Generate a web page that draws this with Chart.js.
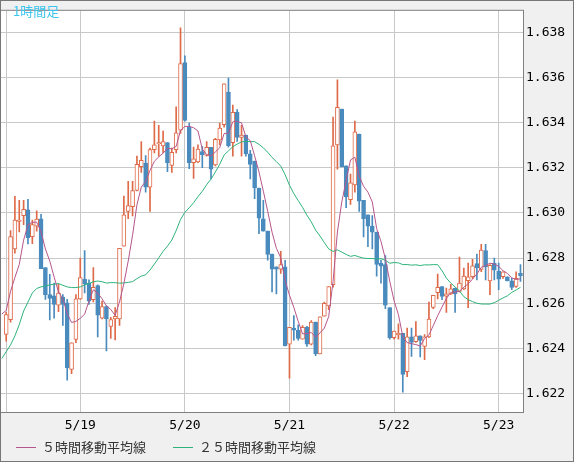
<!DOCTYPE html>
<html>
<head>
<meta charset="utf-8">
<script src="https://cdn.jsdelivr.net/npm/chart.js@4.4.1/dist/chart.umd.min.js"></script>
<style>
html, body { margin: 0; padding: 0; background: #f0f0f0; }
</style>
</head>
<body>
<canvas id="myChart" width="574" height="462"></canvas>
<script>
// 1時間足 (hour index from 5/18 00:00, first candle = 5/18 07:00)
var firstHour = 7;

var opens = [
  1.62462, 1.62527, 1.62840, 1.62962, 1.62988, 1.63013, 1.62895, 1.62941, 1.62974, 1.62758,
  1.62638, 1.62632, 1.62591, 1.62627, 1.62602, 1.62307, 1.62439, 1.62619, 1.62706, 1.62689,
  1.62615, 1.62678, 1.62534, 1.62585, 1.62497, 1.62530, 1.62530, 1.62852, 1.63006, 1.63027,
  1.63099, 1.63205, 1.63221, 1.63114, 1.63280, 1.63306, 1.63297, 1.63311, 1.63210, 1.63280,
  1.63366, 1.63666, 1.63380, 1.63222, 1.63226, 1.63272, 1.63254, 1.63290, 1.63212, 1.63323,
  1.63391, 1.63535, 1.63311, 1.63445, 1.63334, 1.63344, 1.63261, 1.63229, 1.63110, 1.62974,
  1.62919, 1.62818, 1.62761, 1.62751, 1.62761, 1.62418, 1.62490, 1.62480, 1.62441, 1.62493,
  1.62418, 1.62516, 1.62375, 1.62542, 1.62588, 1.62682, 1.63301, 1.63460, 1.63208, 1.63059,
  1.63124, 1.63349, 1.63056, 1.62991, 1.62941, 1.62915, 1.62778, 1.62771, 1.62581, 1.62447,
  1.62461, 1.62466, 1.62297, 1.62451, 1.62429, 1.62455, 1.62408, 1.62451, 1.62581, 1.62646,
  1.62674, 1.62631, 1.62641, 1.62667, 1.62652, 1.62663, 1.62700, 1.62717, 1.62775, 1.62750,
  1.62833, 1.62699, 1.62778, 1.62742, 1.62717, 1.62717, 1.62699, 1.62674, 1.62732
];
var highs = [
  1.62560, 1.62922, 1.63073, 1.63056, 1.63056, 1.63060, 1.62968, 1.63009, 1.62994, 1.62758,
  1.62728, 1.62689, 1.62684, 1.62638, 1.62617, 1.62424, 1.62638, 1.62800, 1.62833, 1.62703,
  1.62758, 1.62681, 1.62609, 1.62588, 1.62537, 1.62581, 1.62843, 1.63074, 1.63140, 1.63140,
  1.63251, 1.63316, 1.63254, 1.63287, 1.63406, 1.63388, 1.63362, 1.63311, 1.63287, 1.63470,
  1.63820, 1.63695, 1.63398, 1.63291, 1.63301, 1.63294, 1.63316, 1.63290, 1.63330, 1.63398,
  1.63571, 1.63597, 1.63477, 1.63457, 1.63388, 1.63344, 1.63277, 1.63229, 1.63110, 1.63056,
  1.62919, 1.62818, 1.62761, 1.62830, 1.62790, 1.62493, 1.62545, 1.62504, 1.62501, 1.62498,
  1.62523, 1.62516, 1.62540, 1.62605, 1.62674, 1.63424, 1.63589, 1.63460, 1.63208, 1.63172,
  1.63406, 1.63349, 1.63056, 1.62991, 1.62988, 1.62915, 1.62790, 1.62811, 1.62581, 1.62476,
  1.62509, 1.62466, 1.62490, 1.62490, 1.62519, 1.62455, 1.62461, 1.62605, 1.62635, 1.62729,
  1.62674, 1.62667, 1.62684, 1.62667, 1.62804, 1.62756, 1.62778, 1.62794, 1.62818, 1.62861,
  1.62861, 1.62771, 1.62800, 1.62778, 1.62739, 1.62717, 1.62710, 1.62739, 1.62771
];
var lows = [
  1.62432, 1.62516, 1.62821, 1.62916, 1.62948, 1.62862, 1.62864, 1.62919, 1.62753, 1.62617,
  1.62526, 1.62534, 1.62562, 1.62501, 1.62259, 1.62288, 1.62425, 1.62617, 1.62645, 1.62595,
  1.62606, 1.62451, 1.62530, 1.62389, 1.62444, 1.62437, 1.62501, 1.62852, 1.62974, 1.62987,
  1.63097, 1.63179, 1.63092, 1.63006, 1.63265, 1.63251, 1.63265, 1.63182, 1.63179, 1.63265,
  1.63352, 1.63406, 1.63196, 1.63153, 1.63222, 1.63200, 1.63251, 1.63150, 1.63208, 1.63301,
  1.63380, 1.63291, 1.63251, 1.63316, 1.63251, 1.63251, 1.63150, 1.63063, 1.62908, 1.62919,
  1.62790, 1.62650, 1.62641, 1.62732, 1.62411, 1.62268, 1.62436, 1.62436, 1.62441, 1.62408,
  1.62415, 1.62367, 1.62375, 1.62542, 1.62571, 1.62671, 1.63193, 1.63203, 1.63023, 1.63037,
  1.63092, 1.63006, 1.62893, 1.62850, 1.62840, 1.62720, 1.62689, 1.62576, 1.62441, 1.62441,
  1.62441, 1.62206, 1.62274, 1.62364, 1.62426, 1.62362, 1.62350, 1.62447, 1.62576, 1.62619,
  1.62616, 1.62559, 1.62638, 1.62559, 1.62650, 1.62660, 1.62580, 1.62710, 1.62703, 1.62739,
  1.62703, 1.62638, 1.62703, 1.62660, 1.62710, 1.62699, 1.62660, 1.62670, 1.62696
];
var closes = [
  1.62549, 1.62895, 1.62968, 1.62968, 1.63016, 1.62890, 1.62948, 1.62972, 1.62753, 1.62638,
  1.62621, 1.62595, 1.62645, 1.62595, 1.62314, 1.62424, 1.62619, 1.62713, 1.62686, 1.62609,
  1.62670, 1.62547, 1.62585, 1.62530, 1.62527, 1.62542, 1.62843, 1.62991, 1.63032, 1.63099,
  1.63215, 1.63233, 1.63114, 1.63280, 1.63301, 1.63311, 1.63316, 1.63222, 1.63268, 1.63355,
  1.63661, 1.63409, 1.63222, 1.63239, 1.63283, 1.63258, 1.63290, 1.63193, 1.63326, 1.63376,
  1.63571, 1.63298, 1.63445, 1.63334, 1.63344, 1.63261, 1.63215, 1.63110, 1.62977, 1.62919,
  1.62816, 1.62751, 1.62751, 1.62771, 1.62411, 1.62493, 1.62480, 1.62444, 1.62493, 1.62418,
  1.62516, 1.62375, 1.62540, 1.62599, 1.62674, 1.63297, 1.63467, 1.63203, 1.63071, 1.63133,
  1.63359, 1.63052, 1.62974, 1.62941, 1.62915, 1.62772, 1.62764, 1.62591, 1.62447, 1.62476,
  1.62466, 1.62285, 1.62451, 1.62426, 1.62455, 1.62435, 1.62451, 1.62530, 1.62635, 1.62670,
  1.62630, 1.62641, 1.62663, 1.62641, 1.62689, 1.62720, 1.62717, 1.62765, 1.62756, 1.62835,
  1.62761, 1.62768, 1.62746, 1.62706, 1.62739, 1.62699, 1.62670, 1.62710, 1.62722
];
// closes before the first visible candle (needed for the moving averages)
var prevCloses = [
  1.61800, 1.62145, 1.61968, 1.61718, 1.61516, 1.61890, 1.61948, 1.62472, 1.62578, 1.62538,
  1.62496, 1.62520, 1.62570, 1.62795, 1.62489, 1.62499, 1.62619, 1.62638, 1.62461, 1.62459,
  1.62470, 1.62472, 1.62660, 1.62680, 1.62477
];

var dayHours = [24, 48, 72, 96, 120];
var dayLabels = ['5/19', '5/20', '5/21', '5/22', '5/23'];
var yTicks = [1.622, 1.624, 1.626, 1.628, 1.630, 1.632, 1.634, 1.636, 1.638];

var upColor = '#de6a48';
var downColor = '#4a8bbe';

function movingAverage(period) {
  var all = prevCloses.concat(closes);
  var out = [];
  for (var i = prevCloses.length - 1; i < all.length; i++) {
    if (i - period + 1 < 0) continue;
    var s = 0;
    for (var j = i - period + 1; j <= i; j++) s += all[j];
    out.push({x: firstHour + i - prevCloses.length, y: s / period});
  }
  return out;
}

var wicks = opens.map((o, i) => ({x: firstHour + i, y: [lows[i], highs[i]]}));
var bodies = opens.map((o, i) => ({x: firstHour + i, y: [opens[i], closes[i]]}));
var candleColor = opens.map((o, i) => closes[i] >= o ? upColor : downColor);
var candleFill = opens.map((o, i) => closes[i] >= o ? '#ffffff' : downColor);

var framePlugin = {
  id: 'frame',
  beforeDraw(chart) {
    var ctx = chart.ctx, ca = chart.chartArea;
    ctx.save();
    ctx.fillStyle = '#f0f0f0';
    ctx.fillRect(0, 0, chart.width, chart.height);
    ctx.fillStyle = '#ffffff';
    ctx.fillRect(ca.left, ca.top, ca.right - ca.left, ca.bottom - ca.top);
    ctx.restore();
  },
  afterDraw(chart) {
    var ctx = chart.ctx, ca = chart.chartArea;
    ctx.save();
    ctx.lineWidth = 1;
    ctx.strokeStyle = '#808080';
    ctx.strokeRect(ca.left - 0.5, ca.top - 0.5, ca.right - ca.left + 1, ca.bottom - ca.top + 1);
    ctx.strokeStyle = '#777777';
    ctx.strokeRect(0.5, 0.5, chart.width - 1, chart.height - 1);

    // title
    ctx.fillStyle = '#3cc4ee';
    ctx.font = '13px "Noto Sans CJK JP"';
    ctx.textBaseline = 'middle';
    ctx.textAlign = 'left';
    ctx.fillText('1時間足', 13, 11);

    // legend
    var slots = [16, 173];
    var ly = 447;
    ctx.font = '13px "Noto Sans CJK JP"';
    chart.data.datasets.filter(d => d.type === 'line').forEach((d, k) => {
      var x = slots[k];
      ctx.strokeStyle = d.borderColor;
      ctx.beginPath();
      ctx.moveTo(x, ly + 0.5);
      ctx.lineTo(x + 20, ly + 0.5);
      ctx.stroke();
      ctx.fillStyle = '#333333';
      ctx.fillText(d.label, x + 26, ly);
    });
    ctx.restore();
  }
};

var ctx = document.getElementById('myChart').getContext('2d');
var myChart = new Chart(ctx, {
  type: 'bar',
  data: {
    datasets: [
      {
        type: 'line', label: '５時間移動平均線', data: movingAverage(5),
        borderColor: '#b5568c', borderWidth: 1, pointRadius: 0, tension: 0, order: 0
      },
      {
        type: 'line', label: '２５時間移動平均線', data: movingAverage(25),
        borderColor: '#2db37a', borderWidth: 1, pointRadius: 0, tension: 0, order: 0
      },
      {
        label: 'body', data: bodies, backgroundColor: candleFill, borderColor: candleColor,
        borderWidth: 1, borderSkipped: false, barThickness: 4, grouped: false, order: 1
      },
      {
        label: 'wick', data: wicks, backgroundColor: candleColor, borderWidth: 0,
        barThickness: 1, grouped: false, order: 2
      }
    ]
  },
  options: {
    responsive: false,
    devicePixelRatio: 1,
    animation: false,
    events: [],
    layout: {padding: {left: 1, top: 1, right: 0, bottom: 26}},
    plugins: {legend: {display: false}, tooltip: {enabled: false}},
    scales: {
      x: {
        type: 'linear', min: 5.81, max: 125.58, offset: false,
        afterBuildTicks: s => { s.ticks = [firstHour].concat(dayHours).map(v => ({value: v})); },
        afterFit: s => { s.height = 24; },
        grid: {color: '#c8c8c8', drawTicks: false, offset: false},
        border: {color: '#808080'},
        ticks: {
          autoSkip: false, maxRotation: 0, padding: 6, color: '#000000',
          font: {family: 'DejaVu Sans Mono', size: 13},
          callback: v => { var k = dayHours.indexOf(v); return k >= 0 ? dayLabels[k] : ''; }
        }
      },
      y: {
        type: 'linear', position: 'right', min: 1.62118, max: 1.63895,
        afterBuildTicks: s => { s.ticks = yTicks.map(v => ({value: v})); },
        afterFit: s => { s.width = 51; },
        grid: {color: '#c8c8c8', drawTicks: false},
        border: {color: '#808080'},
        ticks: {
          padding: 3, color: '#000000',
          font: {family: 'DejaVu Sans Mono', size: 13},
          callback: v => v.toFixed(3)
        }
      }
    }
  },
  plugins: [framePlugin]
});
</script>
</body>
</html>
